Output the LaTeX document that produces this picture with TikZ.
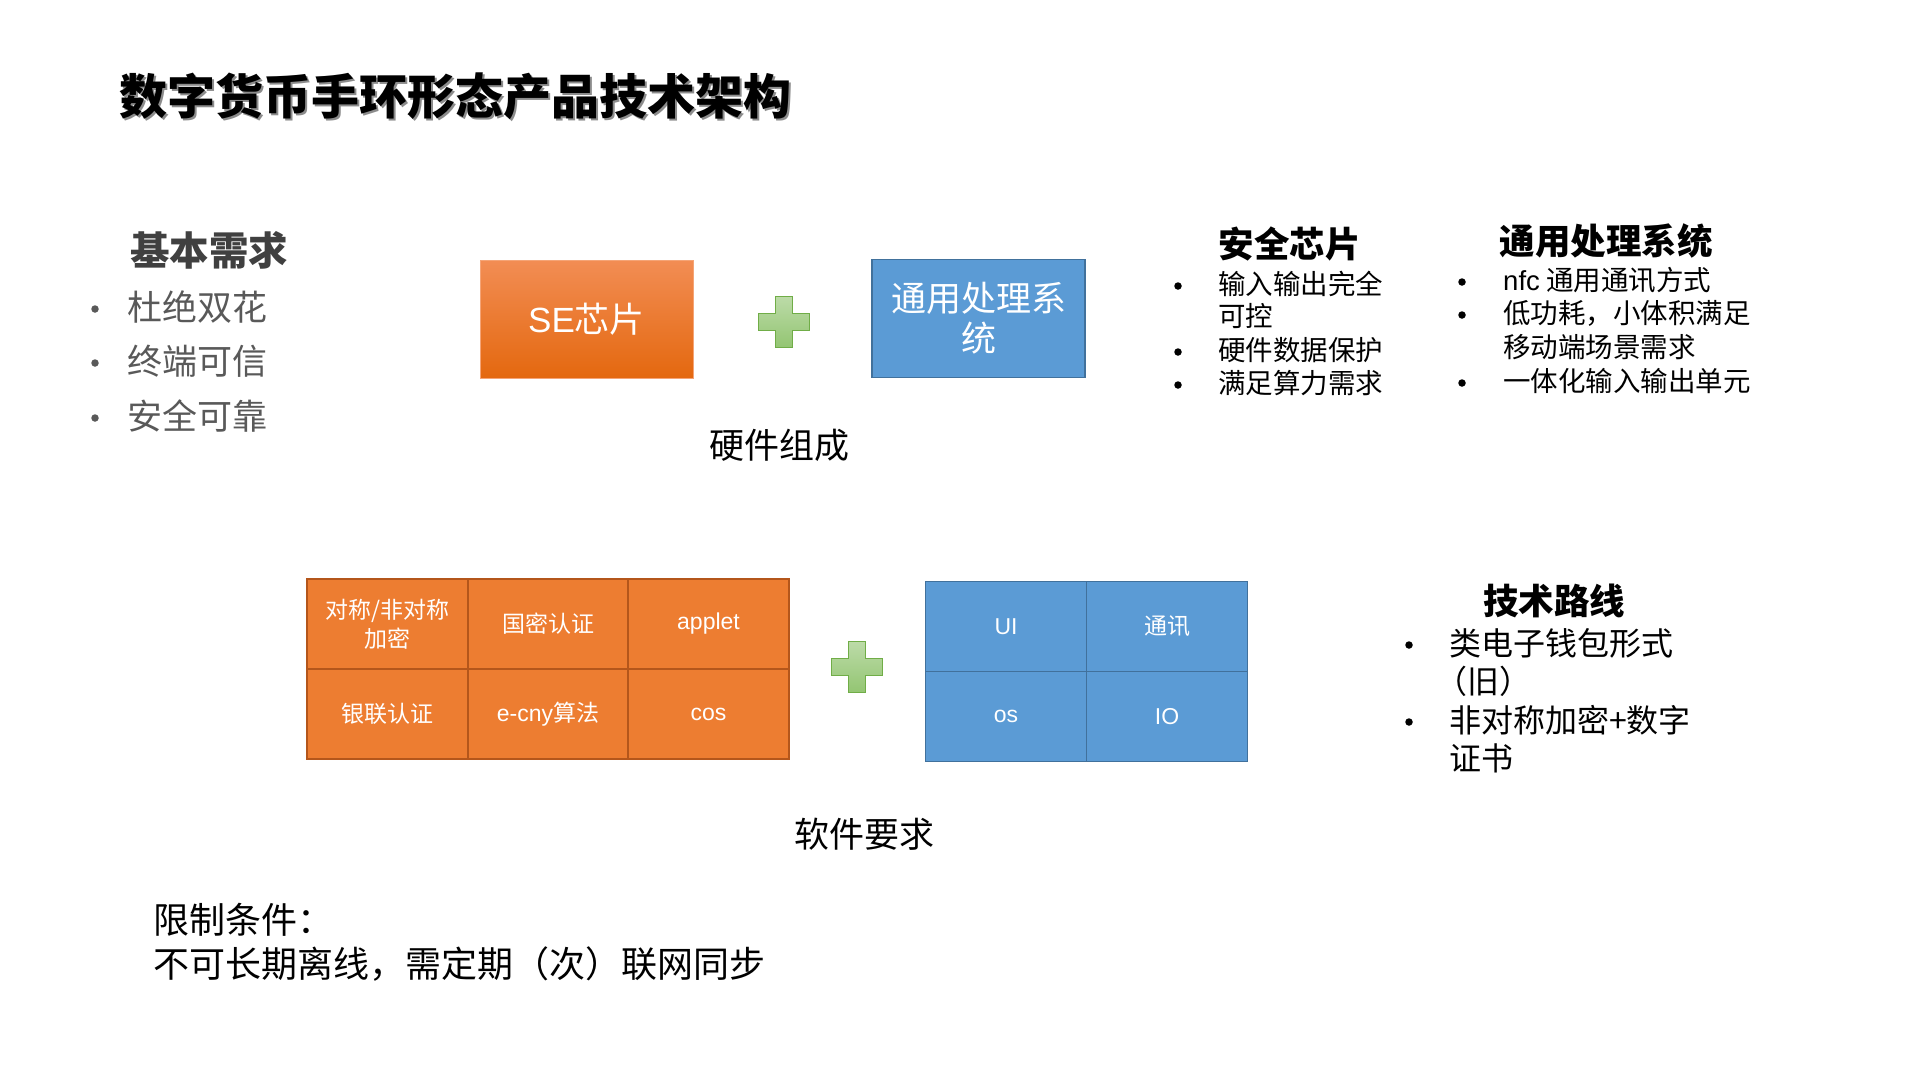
\documentclass[tikz,border=0pt]{standalone}
\usepackage{fontspec}
\setmainfont{Noto Sans CJK SC}
\newfontfamily\arial{Liberation Sans}
\definecolor{setop}{HTML}{F28D54}
\definecolor{sebot}{HTML}{E4680F}
\definecolor{orangecell}{HTML}{ED7D31}
\definecolor{orangeline}{HTML}{B4561B}
\definecolor{bluecell}{HTML}{5B9BD5}
\definecolor{blueline}{HTML}{41719C}
\definecolor{plustop}{HTML}{BCDBA8}
\definecolor{plusbot}{HTML}{93C572}
\definecolor{plusline}{HTML}{70AD47}
\definecolor{graytext}{HTML}{595959}
\definecolor{grayhead}{HTML}{404040}

\begin{document}
\begin{tikzpicture}[
    x=1pt, y=-1pt,
    txt/.style={inner sep=0pt, font=\fontsize{35}{42}\selectfont},
    small/.style={inner sep=0pt, font=\fontsize{27.5}{33}\selectfont, anchor=west},
    route/.style={inner sep=0pt, font=\fontsize{32}{38}\selectfont, anchor=west},
    head/.style={inner sep=0pt, font=\bfseries\fontsize{35.5}{42}\selectfont},
    dot/.style={circle, fill=black, inner sep=0pt, minimum size=7.5pt},
    hwbox/.style={minimum width=213pt, minimum height=118pt, inner sep=0pt,
                  text=white, align=center, font=\fontsize{35}{40}\selectfont},
    cell/.style={minimum width=160.5pt, minimum height=90pt, inner sep=0pt,
                 text=white, align=center, font=\fontsize{23}{29}\selectfont,
                 line width=1.8pt},
    ocell/.style={cell, fill=orangecell, draw=orangeline},
    bcell/.style={cell, fill=bluecell, draw=blueline, minimum width=161pt},
    plussign/.pic={
        \draw[line width=1.5pt, draw=plusline, top color=plustop, bottom color=plusbot]
          (-8.5,-25.5) -- (8.5,-25.5) -- (8.5,-8.5) -- (25.5,-8.5) -- (25.5,8.5)
          -- (8.5,8.5) -- (8.5,25.5) -- (-8.5,25.5) -- (-8.5,8.5) -- (-25.5,8.5)
          -- (-25.5,-8.5) -- (-8.5,-8.5) -- cycle;
    }
]
\fill[white] (0,0) rectangle (1920,1080);
\useasboundingbox (0,0) rectangle (1920,1080);

% Titel
\node[anchor=west, inner sep=0pt, text=black!45, font=\bfseries\fontsize{48}{56}\selectfont]
  (titleshadow) at (121.5,98.5) {数字货币手环形态产品技术架构};
\node[anchor=west, inner sep=0pt, font=\bfseries\fontsize{48}{56}\selectfont]
  (title) at (119,96) {数字货币手环形态产品技术架构};

% Basic needs
\node[head, text=grayhead, font=\bfseries\fontsize{39.5}{46}\selectfont] (needs) at (209,250) {基本需求};
\node[dot, fill=graytext] (needdot1) at (95,309) {};
\node[txt, anchor=west, text=graytext] (need1) at (127,307) {杜绝双花};
\node[dot, fill=graytext] (needdot2) at (95,363) {};
\node[txt, anchor=west, text=graytext] (need2) at (127,361) {终端可信};
\node[dot, fill=graytext] (needdot3) at (95,418) {};
\node[txt, anchor=west, text=graytext] (need3) at (127,416) {安全可靠};

% Hardware
\node[hwbox, top color=setop, bottom color=sebot, draw=setop!80!white, line width=0.8pt]
  (se) at (586.5,319) {{\arial SE}芯片};
\pic at (784,322) {plussign};
\node[hwbox, fill=bluecell, draw=blueline, line width=1.5pt]
  (gps) at (978.5,318.5) {通用处理系\\统};
\node[txt] (hwlabel) at (779,445) {硬件组成};

% Secure chip
\node[head] (sehead) at (1289.5,244) {安全芯片};
\node[dot] (sedot1) at (1178,286) {};
\node[small] (se1) at (1218,284) {输入输出完全};
\node[small] (se1b) at (1218,316) {可控};
\node[dot] (sedot2) at (1178,352) {};
\node[small] (se2) at (1218,350) {硬件数据保护};
\node[dot] (sedot3) at (1178,385) {};
\node[small] (se3) at (1218,383) {满足算力需求};

% General processing system
\node[head] (gpshead) at (1606,241) {通用处理系统};
\node[dot] (gpsdot1) at (1462,282) {};
\node[small] (gps1) at (1503,280) {{\arial nfc} 通用通讯方式};
\node[dot] (gpsdot2) at (1462,315) {};
\node[small] (gps2) at (1503,313) {低功耗，小体积满足};
\node[small] (gps2b) at (1503,347) {移动端场景需求};
\node[dot] (gpsdot3) at (1462,383) {};
\node[small] (gps3) at (1503,381) {一体化输入输出单元};

% Software: orange table
\node[ocell] (sym) at (387.5,624) {对称/非对称\\加密};
\node[ocell] (gm) at (548,624) {国密认证};
\node[ocell] (applet) at (708.5,624) {\arial applet};
\node[ocell] (unionpay) at (387.5,714) {银联认证};
\node[ocell] (ecny) at (548,714) {{\arial e-cny}算法};
\node[ocell] (cos) at (708.5,714) {\arial cos};

\pic at (857,667) {plussign};

% Software: blue table
\node[bcell] (ui) at (1006,626.5) {\arial UI};
\node[bcell] (comm) at (1167,626.5) {通讯};
\node[bcell] (os) at (1006,716.5) {\arial os};
\node[bcell] (io) at (1167,716.5) {\arial IO};

\node[txt] (swlabel) at (864,834) {软件要求};

% Technical route
\node[head] (routehead) at (1554,601) {技术路线};
\node[dot] (routedot1) at (1409,645) {};
\node[route] (route1) at (1449,643) {类电子钱包形式};
\node[route] (route1b) at (1435,681) {（旧）};
\node[dot] (routedot2) at (1409,722) {};
\node[route] (route2) at (1449,720) {非对称加密+数字};
\node[route] (route2b) at (1449,758) {证书};

% Limits
\node[txt, anchor=west, font=\fontsize{36}{42}\selectfont] (limit) at (153,920) {限制条件：};
\node[txt, anchor=west, font=\fontsize{36}{42}\selectfont] (limit2) at (153,964) {不可长期离线，需定期（次）联网同步};

\end{tikzpicture}
\end{document}
